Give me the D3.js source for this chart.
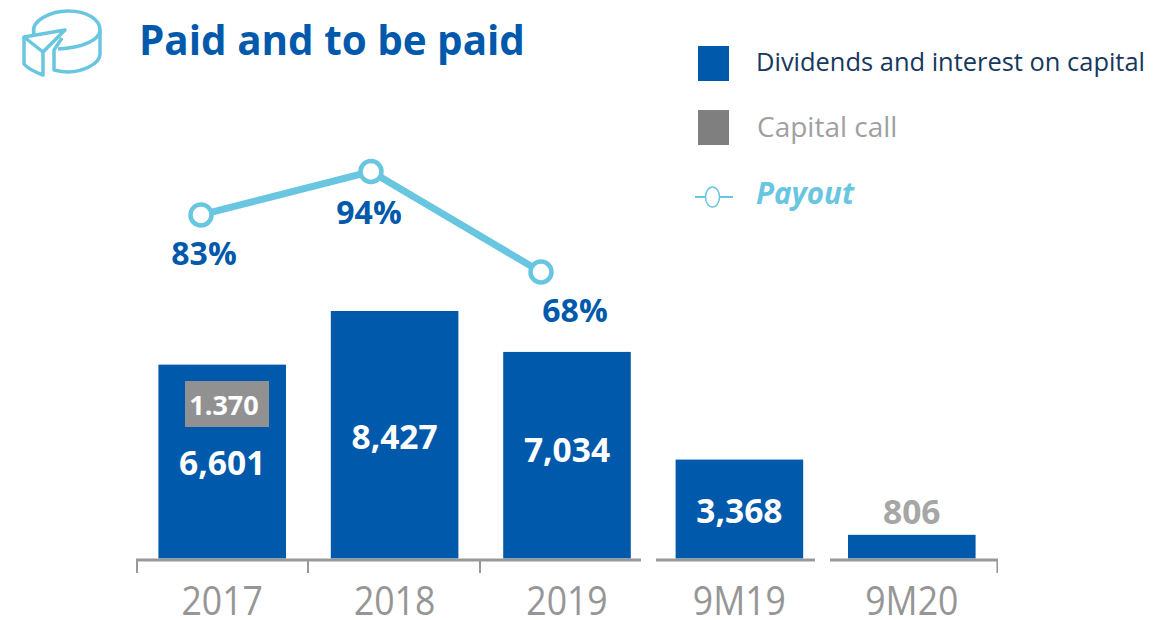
<!DOCTYPE html>
<html><head><meta charset="utf-8">
<script src="https://cdn.jsdelivr.net/npm/d3@7/dist/d3.min.js"></script>
<style>html,body{margin:0;padding:0;background:#fff}svg{display:block}text{font-family:"Open Sans",sans-serif}</style>
</head><body><svg id="c" width="1153" height="620"></svg>
<script>
const categories = ["2017","2018","2019","9M19","9M20"];
const dividends = [6601,8427,7034,3368,806];
const capitalCall = [1.370,null,null,null,null];
const payoutCats = ["2017","2018","2019"];
const payout = [83,94.4,68];
const legendLabels = ["Dividends and interest on capital","Capital call","Payout"];
const title = "Paid and to be paid";
const BLUE="#0059AB", GREY="#7F7F7F", CYAN="#69C6E0", AXIS="#999999", TXT="#969696";

const svg=d3.select("#c");
const x=d3.scaleBand().domain(categories).range([136,998]).paddingInner(0.26).paddingOuter(0.13);
const y=d3.scaleLinear().domain([0,8427]).range([558.5,311]);
const yP=d3.scaleLinear().domain([68,94.4]).range([272,171.5]);
const mid=d=>x(d)+x.bandwidth()/2;

// bars
svg.selectAll("rect.bar").data(categories).join("rect").attr("class","bar")
 .attr("x",d=>x(d)).attr("width",x.bandwidth())
 .attr("y",(d,i)=>y(dividends[i])).attr("height",(d,i)=>y(0)-y(dividends[i])).attr("fill",BLUE);

// axis: three segments with gaps around 9M19
const ax=svg.append("g").attr("transform","translate(0,560)");
ax.selectAll("line.seg").data([[136,641],[656,815],[830,998]]).join("line").attr("class","seg")
 .attr("x1",d=>d[0]).attr("x2",d=>d[1]).attr("stroke",AXIS).attr("stroke-width",3);
ax.selectAll("line.tick").data([[137,2],[308,2],[480,2],[997.2,1.6]]).join("line").attr("class","tick")
 .attr("x1",d=>d[0]).attr("x2",d=>d[0]).attr("y1",0).attr("y2",13).attr("stroke",AXIS).attr("stroke-width",d=>d[1]);
svg.selectAll("text.cat").data(categories).join("text").attr("class","cat")
 .attr("transform",d=>`translate(${mid(d)},615) scale(0.89,1)`).attr("text-anchor","middle")
 .attr("font-size",40).attr("fill",TXT).text(d=>d);

// value labels
const labelY=[475,449,462,523,524];
svg.selectAll("text.val").data(categories).join("text").attr("class","val")
 .attr("x",mid).attr("y",(d,i)=>labelY[i]).attr("text-anchor","middle")
 .attr("font-size",33.5).attr("font-weight",700).attr("fill",(d,i)=>i===4?"#A6A6A6":"#fff")
 .text((d,i)=>d3.format(",")(dividends[i]));

// capital call box
capitalCall.forEach(v=>{ if(v==null) return;
 svg.append("rect").attr("x",185).attr("y",381).attr("width",84).attr("height",46).attr("fill","#919191");
 svg.append("text").attr("x",224).attr("y",415).attr("text-anchor","middle").attr("font-size",27).attr("font-weight",700).attr("fill","#fff").text(v.toFixed(3));
});

// payout line
const xP=d3.scalePoint().domain(payoutCats).range([201,541]);
svg.append("path").datum(payoutCats).attr("fill","none").attr("stroke",CYAN).attr("stroke-width",7)
 .attr("d",d3.line().x(d=>xP(d)).y((d,i)=>yP(payout[i])));
svg.selectAll("circle.p").data(payoutCats).join("circle").attr("class","p")
 .attr("cx",d=>xP(d)).attr("cy",(d,i)=>yP(payout[i])).attr("r",10.5).attr("fill","#fff").attr("stroke",CYAN).attr("stroke-width",4.5);
const pLab=[[204,265],[369,224],[575,322]];
svg.selectAll("text.pl").data(payoutCats).join("text").attr("class","pl")
 .attr("x",(d,i)=>pLab[i][0]).attr("y",(d,i)=>pLab[i][1]).attr("text-anchor","middle")
 .attr("font-size",32).attr("font-weight",700).attr("fill",BLUE).text((d,i)=>Math.round(payout[i])+"%");

// title
svg.append("text").attr("x",139).attr("y",55).attr("font-size",40.4).attr("font-weight",700).attr("fill",BLUE).text(title);

// icon
const ic=svg.append("g").attr("fill","none").attr("stroke",CYAN).attr("stroke-width",3.5).attr("stroke-linejoin","round");
ic.append("path").attr("d","M34,34C30,20 52,11 68,11C88,11 100,20 100,30C100,40 82,48 58,49");
ic.append("path").attr("d","M100,30V54C100,64 82,72 68,72C62,72 58,71 54,70V50L62,38");
ic.append("path").attr("d","M24,37L65,30L43,52Z");
ic.append("path").attr("d","M24,37V64C28,69 35,72 43,75V52");

// legend
svg.append("rect").attr("x",698).attr("y",46).attr("width",31).attr("height",35).attr("fill",BLUE);
svg.append("rect").attr("x",698).attr("y",110).attr("width",31).attr("height",35).attr("fill",GREY);
svg.append("text").attr("x",756).attr("y",71).attr("font-size",26).attr("fill","#17375E").attr("textLength",389).attr("lengthAdjust","spacingAndGlyphs").text(legendLabels[0]);
svg.append("text").attr("x",757).attr("y",137).attr("font-size",28).attr("fill","#A0A0A0").text(legendLabels[1]);
svg.append("line").attr("x1",695).attr("x2",733).attr("y1",197).attr("y2",197).attr("stroke",CYAN).attr("stroke-width",2);
svg.append("ellipse").attr("cx",712.5).attr("cy",197).attr("rx",7).attr("ry",10).attr("fill","#fff").attr("stroke",CYAN).attr("stroke-width",1.5);
svg.append("text").attr("x",756).attr("y",204).attr("font-size",29.5).attr("font-weight",700).attr("font-style","italic").attr("fill",CYAN).text(legendLabels[2]);
</script></body></html>
